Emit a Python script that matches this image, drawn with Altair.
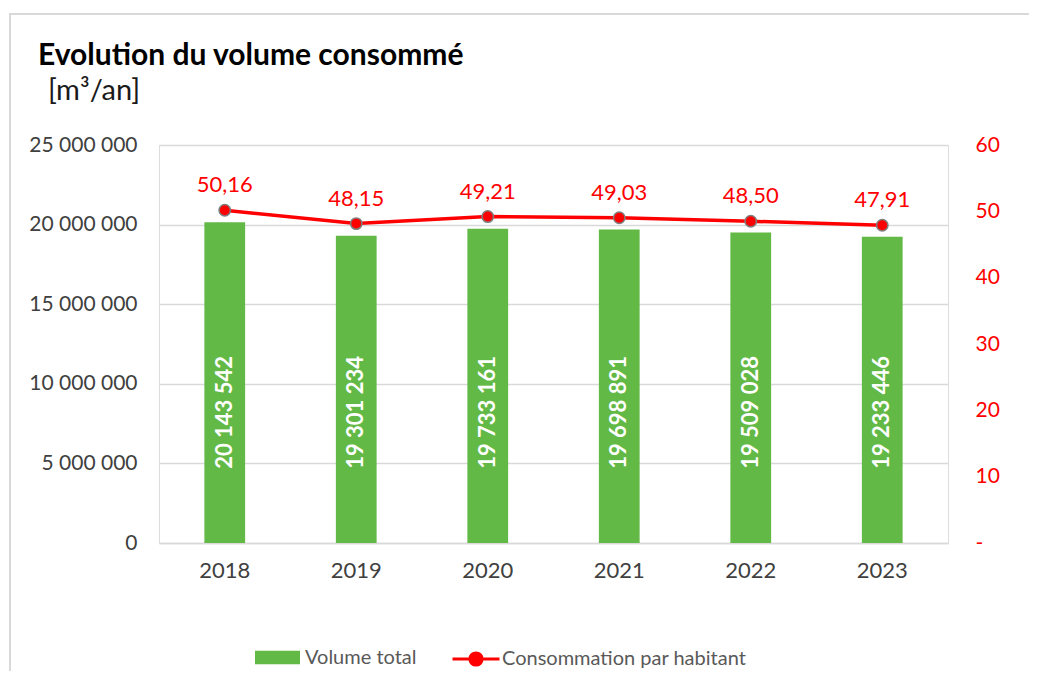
import altair as alt
import pandas as pd

years = ["2018", "2019", "2020", "2021", "2022", "2023"]
volumes = [20143542, 19301234, 19733161, 19698891, 19509028, 19233446]
conso = [50.16, 48.15, 49.21, 49.03, 48.50, 47.91]
left_ticks = [0, 5000000, 10000000, 15000000, 20000000, 25000000]
right_ticks = [0, 10, 20, 30, 40, 50, 60]
title_text = "Evolution du volume consommé"
subtitle_text = "[m³/an]"
series_names = ["Volume total", "Consommation par habitant"]

df = pd.DataFrame({"year": years, "volume": volumes, "conso": conso})

FONT = "Lato"
GREEN = "#63b946"
RED = "#ff0000"
GRID = "#d9d9d9"

x_axis = alt.Axis(title=None, labelAngle=0, labelFont=FONT, labelFontSize=22,
                  labelColor="#404040", domainColor=GRID, domainWidth=1.5,
                  ticks=False, labelPadding=17)
x_enc = alt.X("year:N", sort=years,
              scale=alt.Scale(paddingInner=0.69, paddingOuter=0.345),
              axis=x_axis)

left_axis = alt.Axis(title=None, values=left_ticks, grid=True, gridColor=GRID,
                     gridWidth=1.5, domain=False, ticks=False,
                     labelExpr="replace(replace(format(datum.value, ','), ',', ' '), ',', ' ')",
                     labelFont=FONT, labelFontSize=21, labelColor="#404040",
                     labelPadding=22)
right_axis = alt.Axis(title=None, orient="right", values=right_ticks, grid=False,
                      domain=False, ticks=False,
                      labelExpr="datum.value == 0 ? '-' : datum.label",
                      labelFont=FONT, labelFontSize=21, labelColor=RED,
                      labelPadding=27)

base = alt.Chart(df)

bars = base.transform_calculate(s="'Volume total'").mark_bar().encode(
    x=x_enc,
    y=alt.Y("volume:Q", scale=alt.Scale(domain=[0, 25000000], nice=False), axis=left_axis),
    fill=alt.Fill("s:N", scale=alt.Scale(domain=[series_names[0]], range=[GREEN]),
                  legend=alt.Legend(orient="none", legendX=96, legendY=490, title=None,
                                    symbolType="M-1,-0.3H1V0.3H-1Z", symbolSize=2025,
                                    symbolStrokeWidth=0, padding=0, labelOffset=5,
                                    labelFont=FONT, labelFontSize=20, labelLimit=400,
                                    labelColor="#595959")),
)

bar_labels = base.transform_calculate(
    lab="replace(replace(format(datum.volume, ','), ',', ' '), ',', ' ')"
).mark_text(angle=270, color="white", font=FONT, fontWeight="bold", fontSize=22,
            align="center", baseline="middle").encode(
    x=x_enc,
    y=alt.datum(8200000),
    text="lab:N",
)

line = base.transform_calculate(s="'Consommation par habitant'").mark_line(strokeWidth=3.5).encode(
    x=x_enc,
    y=alt.Y("conso:Q", scale=alt.Scale(domain=[0, 60], nice=False), axis=right_axis),
    stroke=alt.Stroke("s:N", scale=alt.Scale(domain=[series_names[1]], range=[RED]),
                      legend=alt.Legend(orient="none", legendX=292, legendY=489, title=None,
                                        symbolType="M-1,0H1M0.26,0A0.26,0.26,0,1,1,-0.26,0A0.26,0.26,0,1,1,0.26,0Z",
                                        symbolSize=2209, symbolStrokeWidth=3,
                                        symbolFillColor=RED,
                                        padding=0, labelOffset=1,
                                        labelFont=FONT, labelFontSize=20, labelLimit=400,
                                        labelColor="#595959")),
)

points = base.mark_circle(size=130, color=RED, stroke="#7f7f7f", strokeWidth=1.5, opacity=1).encode(
    x=x_enc,
    y=alt.Y("conso:Q"),
)

line_labels = base.transform_calculate(
    lab="replace(format(datum.conso, '.2f'), '.', ',')"
).mark_text(color=RED, font=FONT, fontSize=22, dy=-18, baseline="alphabetic").encode(
    x=x_enc,
    y=alt.Y("conso:Q"),
    text="lab:N",
)

frame_df = pd.DataFrame({"k": [0]})
border_top = alt.Chart(frame_df).mark_rule(stroke=GRID, strokeWidth=2).encode(
    x=alt.value(-150), x2=alt.value(878), y=alt.value(-131)
)
border_left = alt.Chart(frame_df).mark_rule(stroke=GRID, strokeWidth=2).encode(
    x=alt.value(-149), y=alt.value(-132), y2=alt.value(540)
)

title1 = alt.Chart(pd.DataFrame({"t": [title_text]})).mark_text(
    align="left", baseline="alphabetic", font=FONT, fontSize=30, fontWeight="bold",
    color="#000000"
).encode(text="t:N", x=alt.value(-121), y=alt.value(-80))

title2 = alt.Chart(pd.DataFrame({"t": [subtitle_text]})).mark_text(
    align="left", baseline="alphabetic", font=FONT, fontSize=29, color="#1a1a1a"
).encode(text="t:N", x=alt.value(-111), y=alt.value(-45))

left = alt.layer(bars, bar_labels)
right = alt.layer(line, points, line_labels)

chart = alt.layer(border_top, border_left, left, right, title1, title2).resolve_scale(
    y="independent"
).properties(
    width=789, height=398,
    padding={"left": 151, "top": 137, "right": 81, "bottom": 128},
    autosize=alt.AutoSizeParams(type="none"),
).configure_view(stroke=None).configure(font=FONT)

chart.save("out.html", embed_options={"renderer": "svg", "actions": False})
